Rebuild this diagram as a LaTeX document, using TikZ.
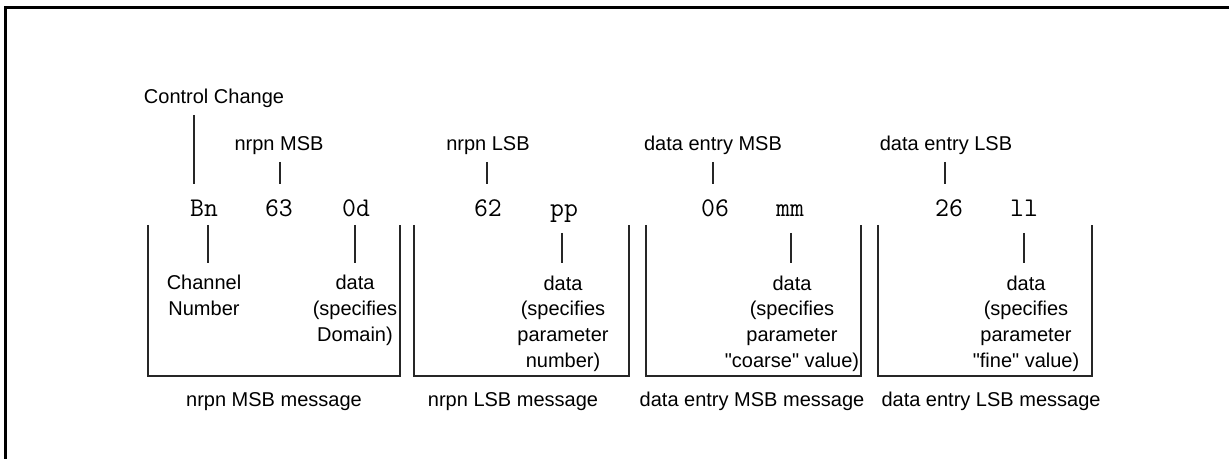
\documentclass[tikz,border=0pt]{standalone}
\usepackage{fontspec}
\setmainfont{Liberation Sans}
\newfontfamily\plainsans{Liberation Sans}[Ligatures=TeXOff]
\begin{document}
\begin{tikzpicture}[x=0.5pt,y=-0.5pt,
  lbl/.style={inner sep=0pt,anchor=base,font=\plainsans\fontsize{10}{12.85}\selectfont,align=center},
  tok/.style={inner sep=0pt,anchor=base,font=\ttfamily\fontsize{13.5}{15}\selectfont},
  ln/.style={line width=0.55pt,draw=black!85},
  frame/.style={line width=1.25pt,draw=black}]
\clip (0,0) rectangle (1229,459);
\useasboundingbox (0,0) rectangle (1229,459);
% outer frame (extends beyond right and bottom)
\coordinate (fbl) at (5.5,470);
\coordinate (ftl) at (5.5,7.5);
\coordinate (ftr) at (1240,7.5);
\draw[frame] (fbl) -- (ftl) -- (ftr);

% top labels
\node[lbl] (cc) at (214,104) {Control Change};
\node[lbl] (nmsb) at (279,151) {nrpn MSB};
\node[lbl] (nlsb) at (488,151) {nrpn LSB};
\node[lbl] (dmsb) at (713,151) {data entry MSB};
\node[lbl] (dlsb) at (946,151) {data entry LSB};

% tokens
\node[tok] (bn) at (204,217) {Bn};
\node[tok] (t63) at (279,217) {63};
\node[tok] (t0d) at (356,217) {0d};
\node[tok] (t62) at (488,217) {62};
\node[tok] (tpp) at (564,217) {pp};
\node[tok] (t06) at (715,217) {06};
\node[tok] (tmm) at (790,217) {mm};
\node[tok] (t26) at (949,217) {26};
\node[tok] (tll) at (1024,217) {ll};

% inner labels (anchor base = last line)
\node[lbl] (chan) at (204,315.7) {Channel\\Number};
\node[lbl] (dom) at (355,341.4) {data\\(specifies\\Domain)};
\node[lbl] (pnum) at (563,367.1) {data\\(specifies\\parameter\\number)};
\node[lbl] (pcoarse) at (792,367.1) {data\\(specifies\\parameter\\"coarse" value)};
\node[lbl] (pfine) at (1026,367.1) {data\\(specifies\\parameter\\"fine" value)};

% bottom labels
\node[lbl] (m1) at (274,406) {nrpn MSB message};
\node[lbl] (m2) at (513,406) {nrpn LSB message};
\node[lbl] (m3) at (752,406) {data entry MSB message};
\node[lbl] (m4) at (991,406) {data entry LSB message};

% connector end points
\coordinate (cca) at (194,115); \coordinate (ccb) at (194,184);
\coordinate (nma) at (280,162); \coordinate (nmb) at (280,184);
\coordinate (nla) at (487,162); \coordinate (nlb) at (487,184);
\coordinate (dma) at (713,162); \coordinate (dmb) at (713,184);
\coordinate (dla) at (945,162); \coordinate (dlb) at (945,184);
\coordinate (bna) at (208,225); \coordinate (bnb) at (208,263);
\coordinate (oda) at (355,225); \coordinate (odb) at (355,263);
\coordinate (ppa) at (562,233); \coordinate (ppb) at (562,263);
\coordinate (mma) at (791,233); \coordinate (mmb) at (791,263);
\coordinate (lla) at (1024,233); \coordinate (llb) at (1024,263);
\draw[ln] (cca) -- (ccb);
\draw[ln] (nma) -- (nmb);
\draw[ln] (nla) -- (nlb);
\draw[ln] (dma) -- (dmb);
\draw[ln] (dla) -- (dlb);
\draw[ln] (bna) -- (bnb);
\draw[ln] (oda) -- (odb);
\draw[ln] (ppa) -- (ppb);
\draw[ln] (mma) -- (mmb);
\draw[ln] (lla) -- (llb);

% message brackets
\coordinate (b1tl) at (148,225); \coordinate (b1br) at (400,376);
\coordinate (b2tl) at (414,225); \coordinate (b2br) at (629,376);
\coordinate (b3tl) at (646,225); \coordinate (b3br) at (861,376);
\coordinate (b4tl) at (878,225); \coordinate (b4br) at (1092,376);
\foreach \b in {b1,b2,b3,b4}{
  \draw[ln] (\b tl) -- (\b tl |- \b br) -- (\b br) -- (\b br |- \b tl);
}
\end{tikzpicture}
\end{document}
